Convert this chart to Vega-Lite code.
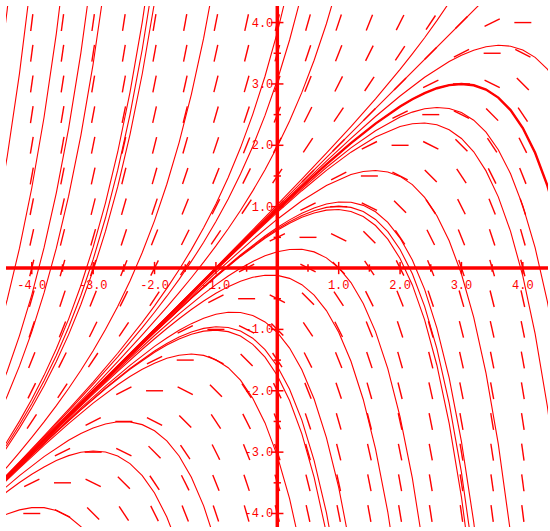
{
"$schema":"https://vega.github.io/schema/vega-lite/v6.json",
"width":542,"height":521,"autosize":"none",
"padding":{"left":6,"top":6,"right":2,"bottom":4},
"background":"white",
"config":{"view":{"stroke":null}},
"datasets":{
"field":[
{"x":-4,"y":4,"s":8},{"x":-3.5,"y":4,"s":7.5},{"x":-3,"y":4,"s":7},{"x":-2.5,"y":4,"s":6.5},{"x":-2,"y":4,"s":6},{"x":-1.5,"y":4,"s":5.5},{"x":-1,"y":4,"s":5},{"x":-0.5,"y":4,"s":4.5},{"x":0,"y":4,"s":4},{"x":0.5,"y":4,"s":3.5},{"x":1,"y":4,"s":3},{"x":1.5,"y":4,"s":2.5},{"x":2,"y":4,"s":2},{"x":2.5,"y":4,"s":1.5},{"x":3,"y":4,"s":1},{"x":3.5,"y":4,"s":0.5},{"x":4,"y":4,"s":0},
{"x":-4,"y":3.5,"s":7.5},{"x":-3.5,"y":3.5,"s":7},{"x":-3,"y":3.5,"s":6.5},{"x":-2.5,"y":3.5,"s":6},{"x":-2,"y":3.5,"s":5.5},{"x":-1.5,"y":3.5,"s":5},{"x":-1,"y":3.5,"s":4.5},{"x":-0.5,"y":3.5,"s":4},{"x":0,"y":3.5,"s":3.5},{"x":0.5,"y":3.5,"s":3},{"x":1,"y":3.5,"s":2.5},{"x":1.5,"y":3.5,"s":2},{"x":2,"y":3.5,"s":1.5},{"x":2.5,"y":3.5,"s":1},{"x":3,"y":3.5,"s":0.5},{"x":3.5,"y":3.5,"s":0},{"x":4,"y":3.5,"s":-0.5},
{"x":-4,"y":3,"s":7},{"x":-3.5,"y":3,"s":6.5},{"x":-3,"y":3,"s":6},{"x":-2.5,"y":3,"s":5.5},{"x":-2,"y":3,"s":5},{"x":-1.5,"y":3,"s":4.5},{"x":-1,"y":3,"s":4},{"x":-0.5,"y":3,"s":3.5},{"x":0,"y":3,"s":3},{"x":0.5,"y":3,"s":2.5},{"x":1,"y":3,"s":2},{"x":1.5,"y":3,"s":1.5},{"x":2,"y":3,"s":1},{"x":2.5,"y":3,"s":0.5},{"x":3,"y":3,"s":0},{"x":3.5,"y":3,"s":-0.5},{"x":4,"y":3,"s":-1},
{"x":-4,"y":2.5,"s":6.5},{"x":-3.5,"y":2.5,"s":6},{"x":-3,"y":2.5,"s":5.5},{"x":-2.5,"y":2.5,"s":5},{"x":-2,"y":2.5,"s":4.5},{"x":-1.5,"y":2.5,"s":4},{"x":-1,"y":2.5,"s":3.5},{"x":-0.5,"y":2.5,"s":3},{"x":0,"y":2.5,"s":2.5},{"x":0.5,"y":2.5,"s":2},{"x":1,"y":2.5,"s":1.5},{"x":1.5,"y":2.5,"s":1},{"x":2,"y":2.5,"s":0.5},{"x":2.5,"y":2.5,"s":0},{"x":3,"y":2.5,"s":-0.5},{"x":3.5,"y":2.5,"s":-1},{"x":4,"y":2.5,"s":-1.5},
{"x":-4,"y":2,"s":6},{"x":-3.5,"y":2,"s":5.5},{"x":-3,"y":2,"s":5},{"x":-2.5,"y":2,"s":4.5},{"x":-2,"y":2,"s":4},{"x":-1.5,"y":2,"s":3.5},{"x":-1,"y":2,"s":3},{"x":-0.5,"y":2,"s":2.5},{"x":0,"y":2,"s":2},{"x":0.5,"y":2,"s":1.5},{"x":1,"y":2,"s":1},{"x":1.5,"y":2,"s":0.5},{"x":2,"y":2,"s":0},{"x":2.5,"y":2,"s":-0.5},{"x":3,"y":2,"s":-1},{"x":3.5,"y":2,"s":-1.5},{"x":4,"y":2,"s":-2},
{"x":-4,"y":1.5,"s":5.5},{"x":-3.5,"y":1.5,"s":5},{"x":-3,"y":1.5,"s":4.5},{"x":-2.5,"y":1.5,"s":4},{"x":-2,"y":1.5,"s":3.5},{"x":-1.5,"y":1.5,"s":3},{"x":-1,"y":1.5,"s":2.5},{"x":-0.5,"y":1.5,"s":2},{"x":0,"y":1.5,"s":1.5},{"x":0.5,"y":1.5,"s":1},{"x":1,"y":1.5,"s":0.5},{"x":1.5,"y":1.5,"s":0},{"x":2,"y":1.5,"s":-0.5},{"x":2.5,"y":1.5,"s":-1},{"x":3,"y":1.5,"s":-1.5},{"x":3.5,"y":1.5,"s":-2},{"x":4,"y":1.5,"s":-2.5},
{"x":-4,"y":1,"s":5},{"x":-3.5,"y":1,"s":4.5},{"x":-3,"y":1,"s":4},{"x":-2.5,"y":1,"s":3.5},{"x":-2,"y":1,"s":3},{"x":-1.5,"y":1,"s":2.5},{"x":-1,"y":1,"s":2},{"x":-0.5,"y":1,"s":1.5},{"x":0,"y":1,"s":1},{"x":0.5,"y":1,"s":0.5},{"x":1,"y":1,"s":0},{"x":1.5,"y":1,"s":-0.5},{"x":2,"y":1,"s":-1},{"x":2.5,"y":1,"s":-1.5},{"x":3,"y":1,"s":-2},{"x":3.5,"y":1,"s":-2.5},{"x":4,"y":1,"s":-3},
{"x":-4,"y":0.5,"s":4.5},{"x":-3.5,"y":0.5,"s":4},{"x":-3,"y":0.5,"s":3.5},{"x":-2.5,"y":0.5,"s":3},{"x":-2,"y":0.5,"s":2.5},{"x":-1.5,"y":0.5,"s":2},{"x":-1,"y":0.5,"s":1.5},{"x":-0.5,"y":0.5,"s":1},{"x":0,"y":0.5,"s":0.5},{"x":0.5,"y":0.5,"s":0},{"x":1,"y":0.5,"s":-0.5},{"x":1.5,"y":0.5,"s":-1},{"x":2,"y":0.5,"s":-1.5},{"x":2.5,"y":0.5,"s":-2},{"x":3,"y":0.5,"s":-2.5},{"x":3.5,"y":0.5,"s":-3},{"x":4,"y":0.5,"s":-3.5},
{"x":-4,"y":0,"s":4},{"x":-3.5,"y":0,"s":3.5},{"x":-3,"y":0,"s":3},{"x":-2.5,"y":0,"s":2.5},{"x":-2,"y":0,"s":2},{"x":-1.5,"y":0,"s":1.5},{"x":-1,"y":0,"s":1},{"x":-0.5,"y":0,"s":0.5},{"x":0,"y":0,"s":0},{"x":0.5,"y":0,"s":-0.5},{"x":1,"y":0,"s":-1},{"x":1.5,"y":0,"s":-1.5},{"x":2,"y":0,"s":-2},{"x":2.5,"y":0,"s":-2.5},{"x":3,"y":0,"s":-3},{"x":3.5,"y":0,"s":-3.5},{"x":4,"y":0,"s":-4},
{"x":-4,"y":-0.5,"s":3.5},{"x":-3.5,"y":-0.5,"s":3},{"x":-3,"y":-0.5,"s":2.5},{"x":-2.5,"y":-0.5,"s":2},{"x":-2,"y":-0.5,"s":1.5},{"x":-1.5,"y":-0.5,"s":1},{"x":-1,"y":-0.5,"s":0.5},{"x":-0.5,"y":-0.5,"s":0},{"x":0,"y":-0.5,"s":-0.5},{"x":0.5,"y":-0.5,"s":-1},{"x":1,"y":-0.5,"s":-1.5},{"x":1.5,"y":-0.5,"s":-2},{"x":2,"y":-0.5,"s":-2.5},{"x":2.5,"y":-0.5,"s":-3},{"x":3,"y":-0.5,"s":-3.5},{"x":3.5,"y":-0.5,"s":-4},{"x":4,"y":-0.5,"s":-4.5},
{"x":-4,"y":-1,"s":3},{"x":-3.5,"y":-1,"s":2.5},{"x":-3,"y":-1,"s":2},{"x":-2.5,"y":-1,"s":1.5},{"x":-2,"y":-1,"s":1},{"x":-1.5,"y":-1,"s":0.5},{"x":-1,"y":-1,"s":0},{"x":-0.5,"y":-1,"s":-0.5},{"x":0,"y":-1,"s":-1},{"x":0.5,"y":-1,"s":-1.5},{"x":1,"y":-1,"s":-2},{"x":1.5,"y":-1,"s":-2.5},{"x":2,"y":-1,"s":-3},{"x":2.5,"y":-1,"s":-3.5},{"x":3,"y":-1,"s":-4},{"x":3.5,"y":-1,"s":-4.5},{"x":4,"y":-1,"s":-5},
{"x":-4,"y":-1.5,"s":2.5},{"x":-3.5,"y":-1.5,"s":2},{"x":-3,"y":-1.5,"s":1.5},{"x":-2.5,"y":-1.5,"s":1},{"x":-2,"y":-1.5,"s":0.5},{"x":-1.5,"y":-1.5,"s":0},{"x":-1,"y":-1.5,"s":-0.5},{"x":-0.5,"y":-1.5,"s":-1},{"x":0,"y":-1.5,"s":-1.5},{"x":0.5,"y":-1.5,"s":-2},{"x":1,"y":-1.5,"s":-2.5},{"x":1.5,"y":-1.5,"s":-3},{"x":2,"y":-1.5,"s":-3.5},{"x":2.5,"y":-1.5,"s":-4},{"x":3,"y":-1.5,"s":-4.5},{"x":3.5,"y":-1.5,"s":-5},{"x":4,"y":-1.5,"s":-5.5},
{"x":-4,"y":-2,"s":2},{"x":-3.5,"y":-2,"s":1.5},{"x":-3,"y":-2,"s":1},{"x":-2.5,"y":-2,"s":0.5},{"x":-2,"y":-2,"s":0},{"x":-1.5,"y":-2,"s":-0.5},{"x":-1,"y":-2,"s":-1},{"x":-0.5,"y":-2,"s":-1.5},{"x":0,"y":-2,"s":-2},{"x":0.5,"y":-2,"s":-2.5},{"x":1,"y":-2,"s":-3},{"x":1.5,"y":-2,"s":-3.5},{"x":2,"y":-2,"s":-4},{"x":2.5,"y":-2,"s":-4.5},{"x":3,"y":-2,"s":-5},{"x":3.5,"y":-2,"s":-5.5},{"x":4,"y":-2,"s":-6},
{"x":-4,"y":-2.5,"s":1.5},{"x":-3.5,"y":-2.5,"s":1},{"x":-3,"y":-2.5,"s":0.5},{"x":-2.5,"y":-2.5,"s":0},{"x":-2,"y":-2.5,"s":-0.5},{"x":-1.5,"y":-2.5,"s":-1},{"x":-1,"y":-2.5,"s":-1.5},{"x":-0.5,"y":-2.5,"s":-2},{"x":0,"y":-2.5,"s":-2.5},{"x":0.5,"y":-2.5,"s":-3},{"x":1,"y":-2.5,"s":-3.5},{"x":1.5,"y":-2.5,"s":-4},{"x":2,"y":-2.5,"s":-4.5},{"x":2.5,"y":-2.5,"s":-5},{"x":3,"y":-2.5,"s":-5.5},{"x":3.5,"y":-2.5,"s":-6},{"x":4,"y":-2.5,"s":-6.5},
{"x":-4,"y":-3,"s":1},{"x":-3.5,"y":-3,"s":0.5},{"x":-3,"y":-3,"s":0},{"x":-2.5,"y":-3,"s":-0.5},{"x":-2,"y":-3,"s":-1},{"x":-1.5,"y":-3,"s":-1.5},{"x":-1,"y":-3,"s":-2},{"x":-0.5,"y":-3,"s":-2.5},{"x":0,"y":-3,"s":-3},{"x":0.5,"y":-3,"s":-3.5},{"x":1,"y":-3,"s":-4},{"x":1.5,"y":-3,"s":-4.5},{"x":2,"y":-3,"s":-5},{"x":2.5,"y":-3,"s":-5.5},{"x":3,"y":-3,"s":-6},{"x":3.5,"y":-3,"s":-6.5},{"x":4,"y":-3,"s":-7},
{"x":-4,"y":-3.5,"s":0.5},{"x":-3.5,"y":-3.5,"s":0},{"x":-3,"y":-3.5,"s":-0.5},{"x":-2.5,"y":-3.5,"s":-1},{"x":-2,"y":-3.5,"s":-1.5},{"x":-1.5,"y":-3.5,"s":-2},{"x":-1,"y":-3.5,"s":-2.5},{"x":-0.5,"y":-3.5,"s":-3},{"x":0,"y":-3.5,"s":-3.5},{"x":0.5,"y":-3.5,"s":-4},{"x":1,"y":-3.5,"s":-4.5},{"x":1.5,"y":-3.5,"s":-5},{"x":2,"y":-3.5,"s":-5.5},{"x":2.5,"y":-3.5,"s":-6},{"x":3,"y":-3.5,"s":-6.5},{"x":3.5,"y":-3.5,"s":-7},{"x":4,"y":-3.5,"s":-7.5},
{"x":-4,"y":-4,"s":0},{"x":-3.5,"y":-4,"s":-0.5},{"x":-3,"y":-4,"s":-1},{"x":-2.5,"y":-4,"s":-1.5},{"x":-2,"y":-4,"s":-2},{"x":-1.5,"y":-4,"s":-2.5},{"x":-1,"y":-4,"s":-3},{"x":-0.5,"y":-4,"s":-3.5},{"x":0,"y":-4,"s":-4},{"x":0.5,"y":-4,"s":-4.5},{"x":1,"y":-4,"s":-5},{"x":1.5,"y":-4,"s":-5.5},{"x":2,"y":-4,"s":-6},{"x":2.5,"y":-4,"s":-6.5},{"x":3,"y":-4,"s":-7},{"x":3.5,"y":-4,"s":-7.5},{"x":4,"y":-4,"s":-8}
],
"curves":[
{"c":"P1","x":-4.6,"y":2.63},{"c":"P1","x":-4.4,"y":4.21},{"c":"P1","x":-4.2,"y":6.1},
{"c":"P2","x":-4.6,"y":0.672},{"c":"P2","x":-4.4,"y":1.818},{"c":"P2","x":-4.2,"y":3.173},{"c":"P2","x":-4.0,"y":4.784},
{"c":"P3","x":-4.6,"y":-1.238},{"c":"P3","x":-4.4,"y":-0.515},{"c":"P3","x":-4.2,"y":0.324},{"c":"P3","x":-4.0,"y":1.304},{"c":"P3","x":-3.8,"y":2.457},{"c":"P3","x":-3.6,"y":3.821},{"c":"P3","x":-3.4,"y":5.443},
{"c":"P4","x":-4.6,"y":-2.193},{"c":"P4","x":-4.4,"y":-1.681},{"c":"P4","x":-4.2,"y":-1.101},{"c":"P4","x":-4.0,"y":-0.436},{"c":"P4","x":-3.8,"y":0.332},{"c":"P4","x":-3.6,"y":1.225},{"c":"P4","x":-3.4,"y":2.272},{"c":"P4","x":-3.2,"y":3.507},{"c":"P4","x":-3.0,"y":4.97},
{"c":"P5","x":-4.6,"y":-2.524},{"c":"P5","x":-4.4,"y":-2.086},{"c":"P5","x":-4.2,"y":-1.595},{"c":"P5","x":-4.0,"y":-1.04},{"c":"P5","x":-3.8,"y":-0.406},{"c":"P5","x":-3.6,"y":0.324},{"c":"P5","x":-3.4,"y":1.171},{"c":"P5","x":-3.2,"y":2.162},{"c":"P5","x":-3.0,"y":3.327},{"c":"P5","x":-2.8,"y":4.707},
{"c":"P6","x":-4.6,"y":-3.128},{"c":"P6","x":-4.4,"y":-2.823},{"c":"P6","x":-4.2,"y":-2.495},{"c":"P6","x":-4.0,"y":-2.139},{"c":"P6","x":-3.8,"y":-1.749},{"c":"P6","x":-3.6,"y":-1.316},{"c":"P6","x":-3.4,"y":-0.832},{"c":"P6","x":-3.2,"y":-0.284},{"c":"P6","x":-3.0,"y":0.34},{"c":"P6","x":-2.8,"y":1.058},{"c":"P6","x":-2.6,"y":1.891},{"c":"P6","x":-2.4,"y":2.864},{"c":"P6","x":-2.2,"y":4.008},{"c":"P6","x":-2.0,"y":5.361},
{"c":"P7","x":-4.6,"y":-3.168},{"c":"P7","x":-4.4,"y":-2.872},{"c":"P7","x":-4.2,"y":-2.555},{"c":"P7","x":-4.0,"y":-2.212},{"c":"P7","x":-3.8,"y":-1.838},{"c":"P7","x":-3.6,"y":-1.425},{"c":"P7","x":-3.4,"y":-0.965},{"c":"P7","x":-3.2,"y":-0.447},{"c":"P7","x":-3.0,"y":0.141},{"c":"P7","x":-2.8,"y":0.815},{"c":"P7","x":-2.6,"y":1.594},{"c":"P7","x":-2.4,"y":2.501},{"c":"P7","x":-2.2,"y":3.565},{"c":"P7","x":-2.0,"y":4.819},
{"c":"P8","x":-4.6,"y":-3.204},{"c":"P8","x":-4.4,"y":-2.916},{"c":"P8","x":-4.2,"y":-2.609},{"c":"P8","x":-4.0,"y":-2.278},{"c":"P8","x":-3.8,"y":-1.919},{"c":"P8","x":-3.6,"y":-1.523},{"c":"P8","x":-3.4,"y":-1.085},{"c":"P8","x":-3.2,"y":-0.594},{"c":"P8","x":-3.0,"y":-0.038},{"c":"P8","x":-2.8,"y":0.596},{"c":"P8","x":-2.6,"y":1.326},{"c":"P8","x":-2.4,"y":2.174},{"c":"P8","x":-2.2,"y":3.166},{"c":"P8","x":-2.0,"y":4.332},
{"c":"P9","x":-4.6,"y":-3.468},{"c":"P9","x":-4.4,"y":-3.239},{"c":"P9","x":-4.2,"y":-3.004},{"c":"P9","x":-4.0,"y":-2.76},{"c":"P9","x":-3.8,"y":-2.507},{"c":"P9","x":-3.6,"y":-2.242},{"c":"P9","x":-3.4,"y":-1.963},{"c":"P9","x":-3.2,"y":-1.666},{"c":"P9","x":-3.0,"y":-1.348},{"c":"P9","x":-2.8,"y":-1.003},{"c":"P9","x":-2.6,"y":-0.627},{"c":"P9","x":-2.4,"y":-0.212},{"c":"P9","x":-2.2,"y":0.252},{"c":"P9","x":-2.0,"y":0.773},{"c":"P9","x":-1.8,"y":1.365},{"c":"P9","x":-1.6,"y":2.045},{"c":"P9","x":-1.4,"y":2.83},{"c":"P9","x":-1.2,"y":3.746},{"c":"P9","x":-1.0,"y":4.819},
{"c":"P10","x":-4.6,"y":-3.571},{"c":"P10","x":-4.2,"y":-3.157},{"c":"P10","x":-3.8,"y":-2.736},{"c":"P10","x":-3.4,"y":-2.305},{"c":"P10","x":-3.0,"y":-1.859},{"c":"P10","x":-2.6,"y":-1.389},{"c":"P10","x":-2.2,"y":-0.885},{"c":"P10","x":-2.0,"y":-0.616},{"c":"P10","x":-1.8,"y":-0.331},{"c":"P10","x":-1.6,"y":-0.027},{"c":"P10","x":-1.4,"y":0.3},{"c":"P10","x":-1.2,"y":0.655},{"c":"P10","x":-1.0,"y":1.045},{"c":"P10","x":-0.8,"y":1.476},{"c":"P10","x":-0.6,"y":1.959},{"c":"P10","x":-0.4,"y":2.504},{"c":"P10","x":-0.2,"y":3.125},{"c":"P10","x":0,"y":3.84},{"c":"P10","x":0.2,"y":4.669},
{"c":"P11","x":-4.6,"y":-3.579},{"c":"P11","x":-4.2,"y":-3.169},{"c":"P11","x":-3.8,"y":-2.754},{"c":"P11","x":-3.4,"y":-2.331},{"c":"P11","x":-3.0,"y":-1.897},{"c":"P11","x":-2.6,"y":-1.447},{"c":"P11","x":-2.2,"y":-0.972},{"c":"P11","x":-2.0,"y":-0.721},{"c":"P11","x":-1.8,"y":-0.459},{"c":"P11","x":-1.6,"y":-0.184},{"c":"P11","x":-1.4,"y":0.108},{"c":"P11","x":-1.2,"y":0.42},{"c":"P11","x":-1.0,"y":0.758},{"c":"P11","x":-0.8,"y":1.126},{"c":"P11","x":-0.6,"y":1.531},{"c":"P11","x":-0.4,"y":1.981},{"c":"P11","x":-0.2,"y":2.487},{"c":"P11","x":0,"y":3.06},{"c":"P11","x":0.2,"y":3.716},{"c":"P11","x":0.4,"y":4.473},
{"c":"P12","x":-4.6,"y":-3.59},{"c":"P12","x":-4.2,"y":-3.185},{"c":"P12","x":-3.8,"y":-2.778},{"c":"P12","x":-3.4,"y":-2.367},{"c":"P12","x":-3.0,"y":-1.951},{"c":"P12","x":-2.6,"y":-1.527},{"c":"P12","x":-2.2,"y":-1.091},{"c":"P12","x":-1.8,"y":-0.638},{"c":"P12","x":-1.6,"y":-0.402},{"c":"P12","x":-1.4,"y":-0.158},{"c":"P12","x":-1.2,"y":0.095},{"c":"P12","x":-1.0,"y":0.361},{"c":"P12","x":-0.8,"y":0.64},{"c":"P12","x":-0.6,"y":0.938},{"c":"P12","x":-0.4,"y":1.257},{"c":"P12","x":-0.2,"y":1.602},{"c":"P12","x":0,"y":1.98},{"c":"P12","x":0.2,"y":2.397},{"c":"P12","x":0.4,"y":2.862},{"c":"P12","x":0.6,"y":3.386},{"c":"P12","x":0.8,"y":3.981},{"c":"P12","x":1.0,"y":4.664},
{"c":"P13","x":-4.6,"y":-3.6},{"c":"P13","x":-3.0,"y":-1.998},{"c":"P13","x":-2.0,"y":-0.996},{"c":"P13","x":-1.0,"y":0.012},{"c":"P13","x":-0.4,"y":0.621},{"c":"P13","x":0,"y":1.032},{"c":"P13","x":0.4,"y":1.448},{"c":"P13","x":0.8,"y":1.871},{"c":"P13","x":1.2,"y":2.306},{"c":"P13","x":1.6,"y":2.758},{"c":"P13","x":2.0,"y":3.236},{"c":"P13","x":2.2,"y":3.489},{"c":"P13","x":2.4,"y":3.753},{"c":"P13","x":2.6,"y":4.031},{"c":"P13","x":2.8,"y":4.326},
{"c":"P14","x":-4.6,"y":-3.6},{"c":"P14","x":3.4,"y":4.4},
{"c":"N1","x":-4.6,"y":-3.6},{"c":"N1","x":-3.0,"y":-2.001},{"c":"N1","x":-2.0,"y":-1.004},{"c":"N1","x":-1.0,"y":-0.01},{"c":"N1","x":0,"y":0.974},{"c":"N1","x":0.4,"y":1.36},{"c":"N1","x":0.8,"y":1.741},{"c":"N1","x":1.2,"y":2.112},{"c":"N1","x":1.6,"y":2.469},{"c":"N1","x":2.0,"y":2.804},{"c":"N1","x":2.4,"y":3.108},{"c":"N1","x":2.8,"y":3.364},{"c":"N1","x":3.0,"y":3.468},{"c":"N1","x":3.2,"y":3.55},{"c":"N1","x":3.4,"y":3.606},{"c":"N1","x":3.6,"y":3.63},{"c":"N1","x":3.8,"y":3.615},{"c":"N1","x":4.0,"y":3.553},{"c":"N1","x":4.2,"y":3.433},{"c":"N1","x":4.4,"y":3.242},{"c":"N1","x":4.6,"y":2.964},
{"c":"N2","x":-4.6,"y":-3.6},{"c":"N2","x":-3.0,"y":-2.003},{"c":"N2","x":-2.0,"y":-1.007},{"c":"N2","x":-1.0,"y":-0.018},{"c":"N2","x":-0.4,"y":0.567},{"c":"N2","x":0,"y":0.95},{"c":"N2","x":0.4,"y":1.326},{"c":"N2","x":0.8,"y":1.689},{"c":"N2","x":1.2,"y":2.035},{"c":"N2","x":1.6,"y":2.353},{"c":"N2","x":2.0,"y":2.632},{"c":"N2","x":2.2,"y":2.751},{"c":"N2","x":2.4,"y":2.851},{"c":"N2","x":2.6,"y":2.93},{"c":"N2","x":2.8,"y":2.981},{"c":"N2","x":3.0,"y":3.0},{"c":"N2","x":3.2,"y":2.978},{"c":"N2","x":3.4,"y":2.908},{"c":"N2","x":3.6,"y":2.777},{"c":"N2","x":3.8,"y":2.574},{"c":"N2","x":4.0,"y":2.281},{"c":"N2","x":4.2,"y":1.879},{"c":"N2","x":4.4,"y":1.344},{"c":"N2","x":4.6,"y":0.646},
{"c":"N3","x":-4.6,"y":-3.601},{"c":"N3","x":-3.0,"y":-2.004},{"c":"N3","x":-2.0,"y":-1.01},{"c":"N3","x":-1.0,"y":-0.027},{"c":"N3","x":-0.4,"y":0.551},{"c":"N3","x":0,"y":0.927},{"c":"N3","x":0.4,"y":1.291},{"c":"N3","x":0.8,"y":1.638},{"c":"N3","x":1.2,"y":1.958},{"c":"N3","x":1.6,"y":2.238},{"c":"N3","x":2.0,"y":2.461},{"c":"N3","x":2.2,"y":2.541},{"c":"N3","x":2.4,"y":2.595},{"c":"N3","x":2.6,"y":2.617},{"c":"N3","x":2.8,"y":2.6},{"c":"N3","x":3.0,"y":2.534},{"c":"N3","x":3.2,"y":2.409},{"c":"N3","x":3.4,"y":2.213},{"c":"N3","x":3.6,"y":1.928},{"c":"N3","x":3.8,"y":1.537},{"c":"N3","x":4.0,"y":1.014},{"c":"N3","x":4.2,"y":0.332},{"c":"N3","x":4.4,"y":-0.546},{"c":"N3","x":4.6,"y":-1.662},
{"c":"N4","x":-4.6,"y":-3.601},{"c":"N4","x":-3.0,"y":-2.005},{"c":"N4","x":-2.0,"y":-1.013},{"c":"N4","x":-1.0,"y":-0.035},{"c":"N4","x":-0.4,"y":0.537},{"c":"N4","x":0,"y":0.906},{"c":"N4","x":0.4,"y":1.26},{"c":"N4","x":0.8,"y":1.591},{"c":"N4","x":1.2,"y":1.888},{"c":"N4","x":1.6,"y":2.134},{"c":"N4","x":2.0,"y":2.305},{"c":"N4","x":2.2,"y":2.352},{"c":"N4","x":2.4,"y":2.364},{"c":"N4","x":2.6,"y":2.334},{"c":"N4","x":2.8,"y":2.254},{"c":"N4","x":3.0,"y":2.112},{"c":"N4","x":3.2,"y":1.894},{"c":"N4","x":3.4,"y":1.583},{"c":"N4","x":3.6,"y":1.16},{"c":"N4","x":3.8,"y":0.598},{"c":"N4","x":4.0,"y":-0.132},{"c":"N4","x":4.2,"y":-1.069},{"c":"N4","x":4.4,"y":-2.256},{"c":"N4","x":4.6,"y":-3.752},
{"c":"N5","x":-4.6,"y":-3.602},{"c":"N5","x":-3.0,"y":-2.01},{"c":"N5","x":-2.0,"y":-1.028},{"c":"N5","x":-1.0,"y":-0.075},{"c":"N5","x":-0.4,"y":0.463},{"c":"N5","x":0,"y":0.796},{"c":"N5","x":0.4,"y":1.096},{"c":"N5","x":0.8,"y":1.346},{"c":"N5","x":1.2,"y":1.523},{"c":"N5","x":1.4,"y":1.573},{"c":"N5","x":1.6,"y":1.59},{"c":"N5","x":1.8,"y":1.566},{"c":"N5","x":2.0,"y":1.493},{"c":"N5","x":2.2,"y":1.359},{"c":"N5","x":2.4,"y":1.151},{"c":"N5","x":2.6,"y":0.853},{"c":"N5","x":2.8,"y":0.445},{"c":"N5","x":3.0,"y":-0.097},{"c":"N5","x":3.2,"y":-0.805},{"c":"N5","x":3.4,"y":-1.713},{"c":"N5","x":3.6,"y":-2.866},{"c":"N5","x":3.8,"y":-4.319},
{"c":"N6","x":-4.6,"y":-3.604},{"c":"N6","x":-4.0,"y":-3.007},{"c":"N6","x":-3.0,"y":-2.018},{"c":"N6","x":-2.0,"y":-1.049},{"c":"N6","x":-1.4,"y":-0.49},{"c":"N6","x":-1.0,"y":-0.134},{"c":"N6","x":-0.6,"y":0.2},{"c":"N6","x":-0.2,"y":0.501},{"c":"N6","x":0,"y":0.635},{"c":"N6","x":0.2,"y":0.754},{"c":"N6","x":0.4,"y":0.855},{"c":"N6","x":0.6,"y":0.935},{"c":"N6","x":0.8,"y":0.988},{"c":"N6","x":1.0,"y":1.008},{"c":"N6","x":1.2,"y":0.988},{"c":"N6","x":1.4,"y":0.92},{"c":"N6","x":1.6,"y":0.792},{"c":"N6","x":1.8,"y":0.592},{"c":"N6","x":2.0,"y":0.303},{"c":"N6","x":2.2,"y":-0.094},{"c":"N6","x":2.4,"y":-0.624},{"c":"N6","x":2.6,"y":-1.314},{"c":"N6","x":2.8,"y":-2.202},{"c":"N6","x":3.0,"y":-3.331},{"c":"N6","x":3.2,"y":-4.754},
{"c":"N6b","x":-4.6,"y":-3.603},{"c":"N6b","x":-4.0,"y":-3.006},{"c":"N6b","x":-3.0,"y":-2.017},{"c":"N6b","x":-2.0,"y":-1.046},{"c":"N6b","x":-1.4,"y":-0.484},{"c":"N6b","x":-1.0,"y":-0.125},{"c":"N6b","x":-0.6,"y":0.213},{"c":"N6b","x":-0.2,"y":0.522},{"c":"N6b","x":0,"y":0.66},{"c":"N6b","x":0.2,"y":0.785},{"c":"N6b","x":0.4,"y":0.893},{"c":"N6b","x":0.6,"y":0.98},{"c":"N6b","x":0.8,"y":1.043},{"c":"N6b","x":1.0,"y":1.076},{"c":"N6b","x":1.2,"y":1.071},{"c":"N6b","x":1.4,"y":1.021},{"c":"N6b","x":1.6,"y":0.916},{"c":"N6b","x":1.8,"y":0.743},{"c":"N6b","x":2.0,"y":0.488},{"c":"N6b","x":2.2,"y":0.132},{"c":"N6b","x":2.4,"y":-0.348},{"c":"N6b","x":2.6,"y":-0.978},{"c":"N6b","x":2.8,"y":-1.791},{"c":"N6b","x":3.0,"y":-2.829},{"c":"N6b","x":3.2,"y":-4.141},{"c":"N6b","x":3.4,"y":-5.788},
{"c":"N7","x":-4.6,"y":-3.604},{"c":"N7","x":-4.0,"y":-3.007},{"c":"N7","x":-3.0,"y":-2.019},{"c":"N7","x":-2.0,"y":-1.052},{"c":"N7","x":-1.4,"y":-0.495},{"c":"N7","x":-1.0,"y":-0.142},{"c":"N7","x":-0.6,"y":0.189},{"c":"N7","x":-0.2,"y":0.485},{"c":"N7","x":0,"y":0.615},{"c":"N7","x":0.2,"y":0.73},{"c":"N7","x":0.4,"y":0.826},{"c":"N7","x":0.6,"y":0.898},{"c":"N7","x":0.8,"y":0.943},{"c":"N7","x":1.0,"y":0.953},{"c":"N7","x":1.2,"y":0.922},{"c":"N7","x":1.4,"y":0.839},{"c":"N7","x":1.6,"y":0.693},{"c":"N7","x":1.8,"y":0.471},{"c":"N7","x":2.0,"y":0.155},{"c":"N7","x":2.2,"y":-0.275},{"c":"N7","x":2.4,"y":-0.844},{"c":"N7","x":2.6,"y":-1.584},{"c":"N7","x":2.8,"y":-2.531},{"c":"N7","x":3.0,"y":-3.733},{"c":"N7","x":3.2,"y":-5.245},
{"c":"N8","x":-4.6,"y":-3.607},{"c":"N8","x":-4.0,"y":-3.013},{"c":"N8","x":-3.0,"y":-2.037},{"c":"N8","x":-2.4,"y":-1.467},{"c":"N8","x":-2.0,"y":-1.099},{"c":"N8","x":-1.6,"y":-0.748},{"c":"N8","x":-1.2,"y":-0.421},{"c":"N8","x":-1.0,"y":-0.27},{"c":"N8","x":-0.8,"y":-0.13},{"c":"N8","x":-0.6,"y":-0.003},{"c":"N8","x":-0.4,"y":0.108},{"c":"N8","x":-0.2,"y":0.199},{"c":"N8","x":0,"y":0.266},{"c":"N8","x":0.2,"y":0.303},{"c":"N8","x":0.4,"y":0.305},{"c":"N8","x":0.6,"y":0.263},{"c":"N8","x":0.8,"y":0.166},{"c":"N8","x":1.0,"y":0.005},{"c":"N8","x":1.2,"y":-0.237},{"c":"N8","x":1.4,"y":-0.577},{"c":"N8","x":1.6,"y":-1.036},{"c":"N8","x":1.8,"y":-1.64},{"c":"N8","x":2.0,"y":-2.424},{"c":"N8","x":2.2,"y":-3.424},{"c":"N8","x":2.4,"y":-4.691},
{"c":"N9","x":-4.6,"y":-3.611},{"c":"N9","x":-4.0,"y":-3.021},{"c":"N9","x":-3.0,"y":-2.056},{"c":"N9","x":-2.6,"y":-1.683},{"c":"N9","x":-2.2,"y":-1.324},{"c":"N9","x":-2.0,"y":-1.152},{"c":"N9","x":-1.8,"y":-0.985},{"c":"N9","x":-1.6,"y":-0.826},{"c":"N9","x":-1.4,"y":-0.676},{"c":"N9","x":-1.2,"y":-0.537},{"c":"N9","x":-1.0,"y":-0.412},{"c":"N9","x":-0.8,"y":-0.303},{"c":"N9","x":-0.6,"y":-0.215},{"c":"N9","x":-0.4,"y":-0.151},{"c":"N9","x":-0.2,"y":-0.117},{"c":"N9","x":0,"y":-0.12},{"c":"N9","x":0.2,"y":-0.168},{"c":"N9","x":0.4,"y":-0.271},{"c":"N9","x":0.6,"y":-0.441},{"c":"N9","x":0.8,"y":-0.693},{"c":"N9","x":1.0,"y":-1.045},{"c":"N9","x":1.2,"y":-1.519},{"c":"N9","x":1.4,"y":-2.142},{"c":"N9","x":1.6,"y":-2.947},{"c":"N9","x":1.8,"y":-3.976},{"c":"N9","x":2.0,"y":-5.276},
{"c":"N10","x":-4.6,"y":-3.621},{"c":"N10","x":-4.0,"y":-3.038},{"c":"N10","x":-3.6,"y":-2.656},{"c":"N10","x":-3.2,"y":-2.284},{"c":"N10","x":-2.8,"y":-1.925},{"c":"N10","x":-2.4,"y":-1.586},{"c":"N10","x":-2.0,"y":-1.277},{"c":"N10","x":-1.8,"y":-1.139},{"c":"N10","x":-1.6,"y":-1.014},{"c":"N10","x":-1.4,"y":-0.906},{"c":"N10","x":-1.2,"y":-0.817},{"c":"N10","x":-1.0,"y":-0.754},{"c":"N10","x":-0.8,"y":-0.721},{"c":"N10","x":-0.6,"y":-0.725},{"c":"N10","x":-0.4,"y":-0.774},{"c":"N10","x":-0.2,"y":-0.878},{"c":"N10","x":0,"y":-1.05},{"c":"N10","x":0.2,"y":-1.304},{"c":"N10","x":0.4,"y":-1.658},{"c":"N10","x":0.6,"y":-2.135},{"c":"N10","x":0.8,"y":-2.762},{"c":"N10","x":1.0,"y":-3.573},{"c":"N10","x":1.2,"y":-4.606},
{"c":"N11","x":-4.6,"y":-3.626},{"c":"N11","x":-4.0,"y":-3.048},{"c":"N11","x":-3.6,"y":-2.671},{"c":"N11","x":-3.2,"y":-2.306},{"c":"N11","x":-2.8,"y":-1.958},{"c":"N11","x":-2.4,"y":-1.636},{"c":"N11","x":-2.0,"y":-1.352},{"c":"N11","x":-1.8,"y":-1.23},{"c":"N11","x":-1.6,"y":-1.125},{"c":"N11","x":-1.4,"y":-1.041},{"c":"N11","x":-1.2,"y":-0.983},{"c":"N11","x":-1.0,"y":-0.957},{"c":"N11","x":-0.8,"y":-0.968},{"c":"N11","x":-0.6,"y":-1.027},{"c":"N11","x":-0.4,"y":-1.143},{"c":"N11","x":-0.2,"y":-1.329},{"c":"N11","x":0,"y":-1.6},{"c":"N11","x":0.2,"y":-1.976},{"c":"N11","x":0.4,"y":-2.479},{"c":"N11","x":0.6,"y":-3.138},{"c":"N11","x":0.8,"y":-3.986},{"c":"N11","x":1.0,"y":-5.068},
{"c":"N12","x":-4.6,"y":-3.628},{"c":"N12","x":-4.0,"y":-3.05},{"c":"N12","x":-3.6,"y":-2.675},{"c":"N12","x":-3.2,"y":-2.312},{"c":"N12","x":-2.8,"y":-1.967},{"c":"N12","x":-2.4,"y":-1.65},{"c":"N12","x":-2.0,"y":-1.372},{"c":"N12","x":-1.8,"y":-1.255},{"c":"N12","x":-1.6,"y":-1.155},{"c":"N12","x":-1.4,"y":-1.078},{"c":"N12","x":-1.2,"y":-1.028},{"c":"N12","x":-1.0,"y":-1.012},{"c":"N12","x":-0.8,"y":-1.036},{"c":"N12","x":-0.6,"y":-1.109},{"c":"N12","x":-0.4,"y":-1.243},{"c":"N12","x":-0.2,"y":-1.452},{"c":"N12","x":0,"y":-1.75},{"c":"N12","x":0.2,"y":-2.159},{"c":"N12","x":0.4,"y":-2.703},{"c":"N12","x":0.6,"y":-3.411},{"c":"N12","x":0.8,"y":-4.32},
{"c":"N13","x":-4.6,"y":-3.641},{"c":"N13","x":-4.2,"y":-3.261},{"c":"N13","x":-3.8,"y":-2.891},{"c":"N13","x":-3.4,"y":-2.536},{"c":"N13","x":-3.0,"y":-2.202},{"c":"N13","x":-2.6,"y":-1.902},{"c":"N13","x":-2.4,"y":-1.768},{"c":"N13","x":-2.2,"y":-1.65},{"c":"N13","x":-2.0,"y":-1.55},{"c":"N13","x":-1.8,"y":-1.471},{"c":"N13","x":-1.6,"y":-1.42},{"c":"N13","x":-1.4,"y":-1.401},{"c":"N13","x":-1.2,"y":-1.423},{"c":"N13","x":-1.0,"y":-1.494},{"c":"N13","x":-0.8,"y":-1.624},{"c":"N13","x":-0.6,"y":-1.828},{"c":"N13","x":-0.4,"y":-2.122},{"c":"N13","x":-0.2,"y":-2.524},{"c":"N13","x":0,"y":-3.06},{"c":"N13","x":0.2,"y":-3.759},{"c":"N13","x":0.4,"y":-4.657},
{"c":"N14","x":-4.6,"y":-3.723},{"c":"N14","x":-4.2,"y":-3.383},{"c":"N14","x":-3.8,"y":-3.073},{"c":"N14","x":-3.4,"y":-2.807},{"c":"N14","x":-3.2,"y":-2.697},{"c":"N14","x":-3.0,"y":-2.607},{"c":"N14","x":-2.8,"y":-2.542},{"c":"N14","x":-2.6,"y":-2.506},{"c":"N14","x":-2.4,"y":-2.507},{"c":"N14","x":-2.2,"y":-2.552},{"c":"N14","x":-2.0,"y":-2.651},{"c":"N14","x":-1.8,"y":-2.817},{"c":"N14","x":-1.6,"y":-3.063},{"c":"N14","x":-1.4,"y":-3.409},{"c":"N14","x":-1.2,"y":-3.875},{"c":"N14","x":-1.0,"y":-4.488},
{"c":"N15","x":-4.6,"y":-3.798},{"c":"N15","x":-4.4,"y":-3.642},{"c":"N15","x":-4.2,"y":-3.495},{"c":"N15","x":-4.0,"y":-3.361},{"c":"N15","x":-3.8,"y":-3.241},{"c":"N15","x":-3.6,"y":-3.138},{"c":"N15","x":-3.4,"y":-3.057},{"c":"N15","x":-3.2,"y":-3.003},{"c":"N15","x":-3.0,"y":-2.981},{"c":"N15","x":-2.8,"y":-2.998},{"c":"N15","x":-2.6,"y":-3.063},{"c":"N15","x":-2.4,"y":-3.187},{"c":"N15","x":-2.2,"y":-3.383},{"c":"N15","x":-2.0,"y":-3.666},{"c":"N15","x":-1.8,"y":-4.056},{"c":"N15","x":-1.6,"y":-4.577},
{"c":"N16","x":-4.6,"y":-4.097},{"c":"N16","x":-4.4,"y":-4.007},{"c":"N16","x":-4.2,"y":-3.941},{"c":"N16","x":-4.0,"y":-3.905},{"c":"N16","x":-3.8,"y":-3.905},{"c":"N16","x":-3.6,"y":-3.95},{"c":"N16","x":-3.4,"y":-4.049},{"c":"N16","x":-3.2,"y":-4.214},{"c":"N16","x":-3.0,"y":-4.46}
],
"ticks":[{"v":-4},{"v":-3.5},{"v":-3},{"v":-2.5},{"v":-2},{"v":-1.5},{"v":-1},{"v":-0.5},{"v":0.5},{"v":1},{"v":1.5},{"v":2},{"v":2.5},{"v":3},{"v":3.5},{"v":4}],
"labels":[{"v":-4,"t":"-4.0"},{"v":-3,"t":"-3.0"},{"v":-2,"t":"-2.0"},{"v":-1,"t":"-1.0"},{"v":1,"t":"1.0"},{"v":2,"t":"2.0"},{"v":3,"t":"3.0"},{"v":4,"t":"4.0"}],
"origin":[{"v":0}]
},
"layer":[
{"data":{"name":"field"},
 "mark":{"type":"point","shape":"M-1,0L1,0","size":289,"filled":false,"color":"#ff0000","strokeWidth":1.4,"opacity":1},
 "encoding":{
  "x":{"field":"x","type":"quantitative","scale":{"domain":[-4.42,4.41],"nice":false,"zero":false},"axis":null},
  "y":{"field":"y","type":"quantitative","scale":{"domain":[-4.22,4.27],"nice":false,"zero":false},"axis":null},
  "angle":{"field":"s","type":"quantitative","scale":{"domain":[-8,-7.5,-7,-6.5,-6,-5.5,-5,-4.5,-4,-3.5,-3,-2.5,-2,-1.5,-1,-0.5,0,0.5,1,1.5,2,2.5,3,3.5,4,4.5,5,5.5,6,6.5,7,7.5,8],"range":[82.875,82.405,81.87,81.254,80.538,79.695,78.69,77.471,75.964,74.055,71.565,68.199,63.435,56.31,45,26.565,0,-26.565,-45,-56.31,-63.435,-68.199,-71.565,-74.055,-75.964,-77.471,-78.69,-79.695,-80.538,-81.254,-81.87,-82.405,-82.875]},"legend":null}
 }},
{"data":{"name":"curves"},
 "mark":{"type":"line","color":"#ff0000","strokeWidth":1.1,"clip":true},
 "encoding":{"x":{"field":"x","type":"quantitative"},"y":{"field":"y","type":"quantitative"},"detail":{"field":"c","type":"nominal"}}},
{"data":{"name":"curves"},"transform":[{"filter":"datum.c == 'N2'"}],
 "mark":{"type":"line","color":"#ff0000","strokeWidth":2.4,"clip":true},
 "encoding":{"x":{"field":"x","type":"quantitative"},"y":{"field":"y","type":"quantitative"}}},
{"data":{"name":"origin"},"mark":{"type":"rule","color":"#ff0000","strokeWidth":3.5},"encoding":{"y":{"field":"v","type":"quantitative"}}},
{"data":{"name":"origin"},"mark":{"type":"rule","color":"#ff0000","strokeWidth":3.5},"encoding":{"x":{"field":"v","type":"quantitative"}}},
{"data":{"name":"ticks"},"transform":[{"filter":"datum.v % 1 == 0"}],"mark":{"type":"rule","color":"#ff0000","strokeWidth":1.5},
 "encoding":{"x":{"field":"v","type":"quantitative"},"y":{"datum":-0.1},"y2":{"datum":0.1}}},
{"data":{"name":"ticks"},"transform":[{"filter":"datum.v % 1 != 0"}],"mark":{"type":"rule","color":"#ff0000","strokeWidth":1.5},
 "encoding":{"x":{"field":"v","type":"quantitative"},"y":{"datum":-0.06},"y2":{"datum":0.06}}},
{"data":{"name":"ticks"},"transform":[{"filter":"datum.v % 1 == 0"}],"mark":{"type":"rule","color":"#ff0000","strokeWidth":1.5},
 "encoding":{"y":{"field":"v","type":"quantitative"},"x":{"datum":-0.1},"x2":{"datum":0.1}}},
{"data":{"name":"ticks"},"transform":[{"filter":"datum.v % 1 != 0"}],"mark":{"type":"rule","color":"#ff0000","strokeWidth":1.5},
 "encoding":{"y":{"field":"v","type":"quantitative"},"x":{"datum":-0.06},"x2":{"datum":0.06}}},
{"data":{"name":"labels"},"mark":{"type":"text","font":"Liberation Mono","fontSize":12,"color":"#ff0000","align":"center","baseline":"alphabetic","dy":21},
 "encoding":{"x":{"field":"v","type":"quantitative"},"y":{"datum":0},"text":{"field":"t","type":"nominal"}}},
{"data":{"name":"labels"},"mark":{"type":"text","font":"Liberation Mono","fontSize":12,"color":"#ff0000","align":"right","baseline":"middle","dx":-4},
 "encoding":{"y":{"field":"v","type":"quantitative"},"x":{"datum":0},"text":{"field":"t","type":"nominal"}}}
]
}
